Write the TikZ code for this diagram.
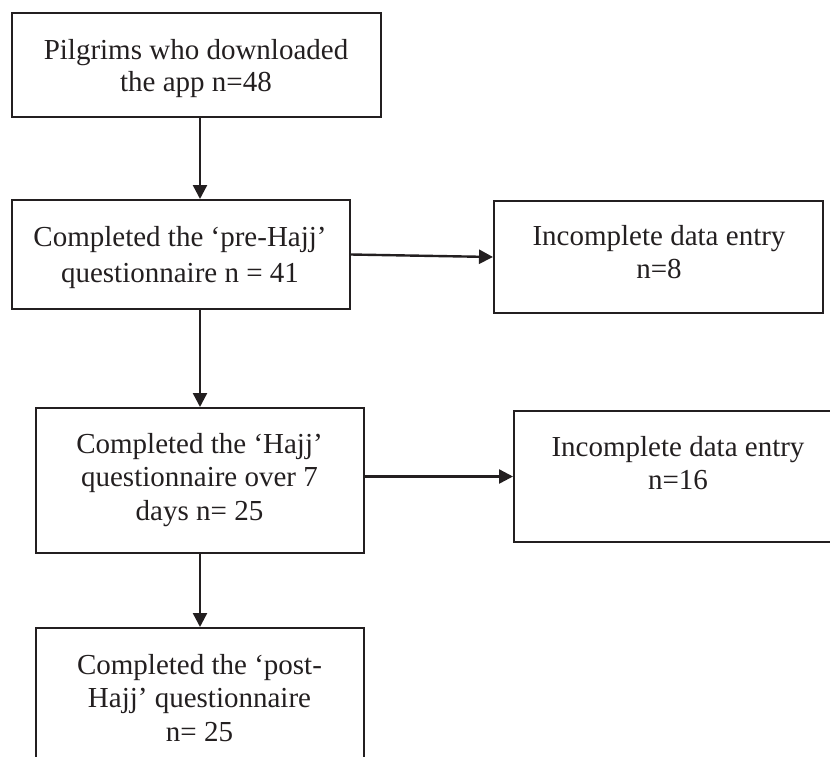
\documentclass[tikz,border=0pt]{standalone}
\usepackage{fontspec}
\setmainfont{Liberation Serif}
\usetikzlibrary{arrows.meta}
\definecolor{ink}{HTML}{231F20}
\begin{document}
\begin{tikzpicture}[x=0.5pt,y=-0.5pt,
  box/.style={draw=ink, line width=1pt, rectangle, inner sep=0pt},
  txt/.style={text=ink, align=center, anchor=base, inner sep=0pt},
  arr/.style={draw=ink, line width=1.2pt, -{Triangle[length=7pt,width=7pt]}}]
\useasboundingbox (0,0) rectangle (830,756);
\clip (0,0) rectangle (830,756);
% boxes
\node[box, minimum width=184.5pt, minimum height=52pt] (b1) at (196.5,65) {};
\node[box, minimum width=169pt, minimum height=54.5pt] (b2) at (181,254.5) {};
\node[box, minimum width=164.5pt, minimum height=56pt] (b3) at (658.5,257) {};
\node[box, minimum width=164pt, minimum height=72.5pt] (b4) at (200,480.5) {};
\node[box, minimum width=170pt, minimum height=65.5pt] (b5) at (684,476.5) {};
\node[box, minimum width=164pt, minimum height=70pt] (b6) at (200,698) {};
% texts (anchor = baseline of last line)
\node[txt, font=\fontsize{14.5}{16.2}\selectfont] (t1) at (196,91.7) {Pilgrims who downloaded\\the app n=48};
\node[txt, font=\fontsize{14.5}{18.3}\selectfont] (t2) at (180,282.7) {Completed the ‘pre-Hajj’\\questionnaire n = 41};
\node[txt, font=\fontsize{14.5}{16.2}\selectfont] (t3) at (659,278.3) {Incomplete data entry\\n=8};
\node[txt, font=\fontsize{14.5}{16.7}\selectfont] (t4) at (199.5,520) {Completed the ‘Hajj’\\questionnaire over 7\\days n= 25};
\node[txt, font=\fontsize{14.5}{16.3}\selectfont] (t5) at (678,489.3) {Incomplete data entry\\n=16};
\node[txt, font=\fontsize{14.5}{16.7}\selectfont] (t6) at (199.5,741) {Completed the ‘post-\\Hajj’ questionnaire\\n= 25};
% connectors
\coordinate (cx) at (200,0);
\draw[arr] (b1.south -| cx) -- (b2.north -| cx);
\draw[arr] (b2.east) -- (b3.west);
\draw[arr] (b2.south -| cx) -- (b4.north -| cx);
\draw[arr] (b4.east |- b5.west) -- (b5.west);
\draw[arr] (b4.south -| cx) -- (b6.north -| cx);
\end{tikzpicture}
\end{document}
